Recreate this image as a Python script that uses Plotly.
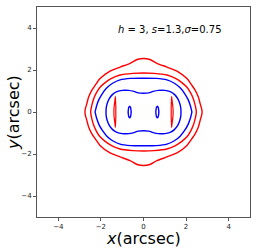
import plotly.graph_objects as go

# Quadrant points (x>=0, y>=0), from top (x=0) to side (y=0)
caustic_outer_x = [0.00, 0.30, 0.63, 1.10, 1.57, 2.04, 2.25, 2.43, 2.58, 2.66, 2.73, 2.75]
caustic_outer_y = [2.55, 2.50, 2.32, 2.14, 1.95, 1.59, 1.30, 1.03, 0.70, 0.40, 0.15, 0.00]

caustic_mid_x = [0.00, 0.50, 1.10, 1.50, 1.80, 2.05, 2.22, 2.35, 2.43, 2.47, 2.48]
caustic_mid_y = [1.86, 1.84, 1.76, 1.60, 1.40, 1.17, 0.90, 0.60, 0.30, 0.10, 0.00]

crit_outer_x = [0.00, 0.60, 1.10, 1.45, 1.72, 1.93, 2.09, 2.20, 2.25, 2.27]
crit_outer_y = [1.61, 1.60, 1.53, 1.37, 1.15, 0.88, 0.60, 0.30, 0.10, 0.00]

crit_inner_x = [0.00, 0.25, 0.45, 0.70, 1.00, 1.25, 1.45, 1.60, 1.70, 1.75, 1.76]
crit_inner_y = [0.89, 0.91, 0.98, 1.03, 1.03, 0.97, 0.84, 0.65, 0.42, 0.20, 0.00]

# small critical ovals (right one, upper half, centre x=0.65)
oval_x = [0.65, 0.69, 0.71, 0.72]
oval_y = [0.28, 0.22, 0.12, 0.00]

# thin caustic lens (right one, upper half): tip -> outer edge, tip -> inner edge
lens_outer_x = [1.32, 1.35, 1.38, 1.39]
lens_outer_y = [0.73, 0.48, 0.24, 0.00]
lens_inner_x = [1.32, 1.31, 1.30, 1.30]
lens_inner_y = [0.73, 0.48, 0.24, 0.00]


def full_curve(qx, qy):
    xs, ys = [], []
    xs += qx; ys += qy
    xs += qx[::-1][1:]; ys += [-v for v in qy[::-1]][1:]
    xs += [-v for v in qx][1:]; ys += [-v for v in qy][1:]
    xs += [-v for v in qx[::-1]][1:]; ys += qy[::-1][1:]
    return xs, ys


def oval(cx_sign):
    cx = oval_x[0]
    dx = [v - cx for v in oval_x]
    xs, ys = full_curve(dx, oval_y)
    return [cx_sign * cx + v for v in xs], ys


def lens(sign):
    xo = lens_outer_x + lens_outer_x[::-1][1:]
    yo = lens_outer_y + [-v for v in lens_outer_y[::-1]][1:]
    xi = lens_inner_x[1:] + lens_inner_x[::-1][1:]
    yi = [-v for v in lens_inner_y][1:] + lens_inner_y[::-1][1:]
    return [sign * v for v in xo + xi], yo + yi


fig = go.Figure()
lw = 1.4

for qx, qy, col in [
    (caustic_outer_x, caustic_outer_y, "red"),
    (caustic_mid_x, caustic_mid_y, "red"),
    (crit_outer_x, crit_outer_y, "blue"),
    (crit_inner_x, crit_inner_y, "blue"),
]:
    xs, ys = full_curve(qx, qy)
    fig.add_trace(go.Scatter(x=xs, y=ys, mode="lines",
                             line=dict(color=col, width=lw, shape="spline", smoothing=0.8),
                             showlegend=False))

for s in (1, -1):
    xs, ys = oval(s)
    fig.add_trace(go.Scatter(x=xs, y=ys, mode="lines",
                             line=dict(color="blue", width=lw, shape="spline", smoothing=1.0),
                             showlegend=False))
    xs, ys = lens(s)
    fig.add_trace(go.Scatter(x=xs, y=ys, mode="lines",
                             line=dict(color="red", width=1.2, shape="spline", smoothing=0.6),
                             showlegend=False))

axis_common = dict(
    range=[-5, 5], tickvals=[-4, -2, 0, 2, 4], showgrid=False, zeroline=False,
    showline=True, mirror=True, linecolor="#555555", linewidth=1,
    ticks="outside", ticklen=3, tickwidth=1, tickcolor="#555555",
    tickfont=dict(family="DejaVu Sans", size=7, color="#222222"),
)

fig.update_layout(
    width=256, height=251,
    margin=dict(l=37, r=6, t=7, b=34),
    paper_bgcolor="white", plot_bgcolor="white",
    xaxis=axis_common,
    yaxis=axis_common,
    font=dict(family="DejaVu Sans"),
    annotations=[
        dict(x=1.23, y=3.95, xref="x", yref="y", showarrow=False,
             text="<i>h</i> = 3, <i>s</i>=1.3,<i>σ</i>=0.75",
             font=dict(family="DejaVu Sans", size=10, color="black")),
        dict(x=0.5, y=-0.10, xref="paper", yref="paper", showarrow=False,
             yanchor="middle", text="<i>x</i>(arcsec)",
             font=dict(family="DejaVu Sans", size=16, color="black")),
        dict(x=-0.113, y=0.5, xref="paper", yref="paper", showarrow=False,
             xanchor="center", textangle=-90, text="<i>y</i>(arcsec)",
             font=dict(family="DejaVu Sans", size=16, color="black")),
    ],
)

fig.write_html("out.html", config={"displayModeBar": False},
               post_script="document.body.style.margin='0px';")
